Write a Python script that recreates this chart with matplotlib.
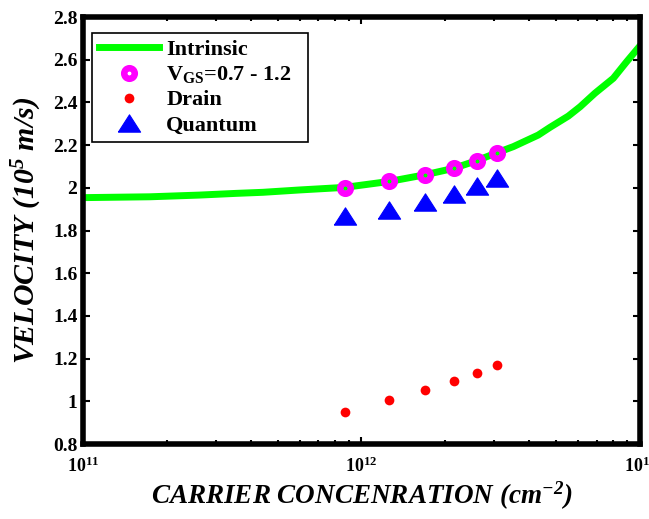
import matplotlib
matplotlib.use("Agg")
import matplotlib.pyplot as plt
from matplotlib.ticker import FixedLocator, FixedFormatter, LogLocator, NullFormatter

plt.rcParams['font.family'] = ['Liberation Serif', 'DejaVu Serif']
plt.rcParams['font.weight'] = 'bold'

# intrinsic velocity curve
intr_n = [1e11, 1.74e11, 2.62e11, 3.55e11, 4.43e11, 6.0e11, 8.7e11, 1.26e12, 1.69e12,
          2.14e12, 2.59e12, 3.06e12, 3.51e12, 4.31e12, 4.75e12, 5.53e12, 6.10e12,
          6.89e12, 8.02e12, 8.96e12, 1e13]
intr_v = [1.954, 1.958, 1.966, 1.974, 1.979, 1.990, 2.002, 2.030, 2.061,
          2.091, 2.127, 2.164, 2.193, 2.247, 2.283, 2.336, 2.380,
          2.443, 2.513, 2.591, 2.665]

# gate bias sweep points
pts_n = [8.7e11, 1.26e12, 1.69e12, 2.14e12, 2.59e12, 3.07e12]
vgs_v = [2.000, 2.030, 2.061, 2.091, 2.127, 2.163]
drain_v = [0.951, 1.005, 1.053, 1.095, 1.133, 1.169]
quantum_v = [1.868, 1.897, 1.934, 1.970, 2.007, 2.048]

yticks = [0.8, 1.0, 1.2, 1.4, 1.6, 1.8, 2.0, 2.2, 2.4, 2.6, 2.8]
ytick_labels = ['0.8', '1', '1.2', '1.4', '1.6', '1.8', '2', '2.2', '2.4', '2.6', '2.8']
xticks = [1e11, 1e12, 1e13]
xtick_labels = [r'$\mathdefault{10^{11}}$', r'$\mathdefault{10^{12}}$', r'$\mathdefault{10^{13}}$']

fig = plt.figure(figsize=(6.49, 5.19), dpi=100)
ax = fig.add_axes([0.1279, 0.1445, 0.8582, 0.8227])

ax.plot(intr_n, intr_v, color=(0, 1, 0), lw=5, label='Intrinsic', zorder=2)
ax.plot(pts_n, vgs_v, ls='none', marker='o', ms=7.6, mfc='none', mec=(1, 0, 1),
        mew=4.7, label=r'V$\mathdefault{_{GS}}$=0.7 - 1.2', zorder=3)
ax.plot(pts_n, drain_v, ls='none', marker='o', ms=7, mfc='red', mec='red', mew=0,
        label='Drain', zorder=3)
tri = [(-1, -0.78), (1, -0.78), (0, 0.78), (-1, -0.78)]
ax.plot(pts_n, quantum_v, ls='none', marker=tri, ms=16, mfc='blue', mec='blue',
        mew=0.8, label='Quantum', zorder=3)

ax.set_xscale('log')
ax.set_xlim(1e11, 1e13)
ax.set_ylim(0.8, 2.8)

ax.yaxis.set_major_locator(FixedLocator(yticks))
ax.yaxis.set_major_formatter(FixedFormatter(ytick_labels))
ax.xaxis.set_major_locator(FixedLocator(xticks))
ax.xaxis.set_major_formatter(FixedFormatter(xtick_labels))
ax.xaxis.set_minor_locator(LogLocator(base=10, subs=range(2, 10)))
ax.xaxis.set_minor_formatter(NullFormatter())

ax.tick_params(which='both', direction='in', top=True, right=True, width=1.5)
ax.tick_params(which='major', length=5)
ax.tick_params(which='minor', length=3)
ax.tick_params(axis='x', which='major', pad=9)
ax.tick_params(axis='y', which='major', pad=4)
for lab in ax.get_xticklabels():
    lab.set_fontsize(13)
    lab.set_fontweight('bold')
for lab in ax.get_yticklabels():
    lab.set_fontsize(14)
    lab.set_fontweight('bold')

for sp in ax.spines.values():
    sp.set_linewidth(4)

ax.set_xlabel(r'CARRIER CONCENRATION (cm$\mathdefault{^{-2}}$)', fontsize=19.5,
              fontweight='bold', fontstyle='italic', labelpad=3)
ax.set_ylabel(r'VELOCITY (10$\mathdefault{^{5}}$ m/s)', fontsize=21.5,
              fontweight='bold', fontstyle='italic', labelpad=6)

leg = ax.legend(loc='upper left', bbox_to_anchor=(0.016, 0.5, 0.388, 0.463),
                mode='expand', borderaxespad=0,
                fancybox=False, edgecolor='black', framealpha=1,
                prop={'weight': 'bold', 'size': 16}, handlelength=2.7,
                handletextpad=0.35, labelspacing=0.2, borderpad=0.3)
leg.get_frame().set_linewidth(1.2)

fig.savefig('out.png', dpi=100)
